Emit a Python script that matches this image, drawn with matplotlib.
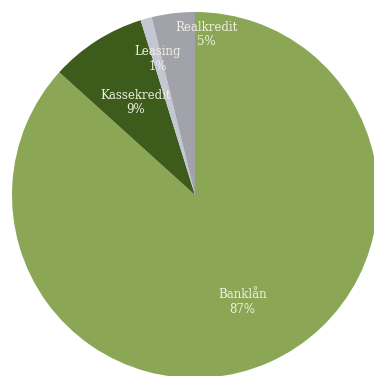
import numpy as np
import matplotlib.pyplot as plt

# slice sizes (order: clockwise from 12 o'clock)
categories = ['Banklån', 'Kassekredit', 'Leasing', 'Realkredit']
shares = [86.7, 8.5, 1.0, 3.8]
pct_labels = ['87%', '9%', '1%', '5%']

colors = ['#8ba755', '#3d5b1b', '#c3c7d2', '#a2a2aa']
# label placement: (radius as fraction, angle offset in degrees)
label_place = [(0.64, 0), (0.60, 0), (0.77, 0), (0.88, -11)]


def main():
    fig = plt.figure(figsize=(3.74, 3.76), dpi=100)
    ax = fig.add_axes([0, 0, 1, 1])
    cx, cy, r = 195, 376 - 195, 183

    wedges, _ = ax.pie(shares, colors=colors, startangle=90, counterclock=False,
                       center=(cx, cy), radius=r,
                       wedgeprops=dict(linewidth=0))

    for w, name, pct, (frac, off) in zip(wedges, categories, pct_labels, label_place):
        mid = np.deg2rad((w.theta1 + w.theta2) / 2 + off)
        x = cx + frac * r * np.cos(mid)
        y = cy + frac * r * np.sin(mid)
        ax.text(x, y, f'{name}\n{pct}', ha='center', va='center',
                fontsize=8.5, family='DejaVu Serif', color='#eef0e2',
                linespacing=1.15)

    ax.set_xlim(0, 374)
    ax.set_ylim(0, 376)
    ax.set_aspect('equal')
    ax.axis('off')
    fig.savefig('out.png', dpi=100, facecolor='white')


if __name__ == "__main__":
    main()
